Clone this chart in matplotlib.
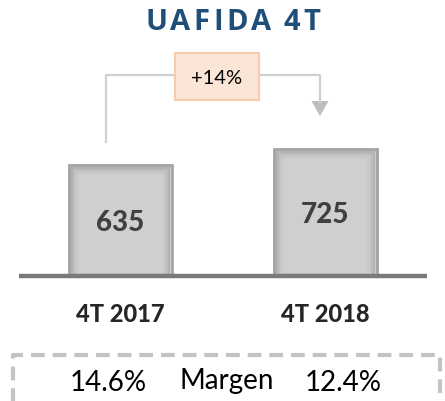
import matplotlib
matplotlib.use('Agg')
import matplotlib.pyplot as plt
from matplotlib.patches import Rectangle, Polygon
from matplotlib.lines import Line2D

# --- DATA ---
categories = ['4T 2017', '4T 2018']
values = [635, 725]
margins = ['14.6%', '12.4%']
growth_label = '+14%'
title = 'UAFIDA 4T'

W, H = 445, 402


def P(x, y):
    # pixel (from top-left) -> figure fraction
    return x / W, 1 - y / H


def main():
    fig = plt.figure(figsize=(W / 100, H / 100), dpi=100)
    fig.patch.set_facecolor('white')
    ax = fig.add_axes([0, 0, 1, 1])
    ax.set_facecolor('white')
    ax.axis('off')

    # axis scale: 204.5 px per category step, 0.1735 px per unit
    px_x = 204.5
    px_y = 0.1735
    ax.set_xlim(-120.5 / px_x, (W - 120.5) / px_x)
    ax.set_ylim(-(H - 276) / px_y, 276 / px_y)

    xs = list(range(len(values)))
    width = 103 / px_x

    # bars with a soft inner shading
    ax.bar(xs, values, width=width, color='#d0cecf', edgecolor='#a5a3a3',
           linewidth=2, zorder=2)
    shades = ['#b3b1b1', '#bebcbc', '#c7c5c6', '#cccacb']
    for k, col in enumerate(shades, start=1):
        inset = (k * 2.0 + 1)
        ax.bar(xs, [v - inset / px_y for v in values], width=width - 2 * inset / px_x,
               color='none', edgecolor=col, linewidth=1.5, zorder=3)

    # baseline
    ax.plot([(19 - 120.5) / px_x, (427 - 120.5) / px_x], [-8, -8],
            color='#7b7979', linewidth=3.2, solid_capstyle='butt', zorder=4)

    # value labels
    for x, v in zip(xs, values):
        ax.text(x, v / 2 - 12, f'{v}', ha='center', va='center', fontsize=20,
                fontweight='black', color='#404040', family='Lato', zorder=5)

    # category labels
    for x, c in zip(xs, categories):
        ax.text(x, -(315 - 276) / px_y, c, ha='center', va='center', fontsize=17,
                fontweight='black', color='#262626', family='Lato')

    # title with letter spacing
    renderer = fig.canvas.get_renderer()
    objs = []
    for ch in title:
        t = fig.text(0, P(0, 23)[1], ch, ha='left', va='center', fontsize=21,
                     fontweight='bold', color='#1f4e79', family='Open Sans')
        objs.append(t)
    widths = [t.get_window_extent(renderer).width if ch != ' ' else 5
              for t, ch in zip(objs, title)]
    target = 175
    gap = (target - sum(widths)) / (len(title) - 1)
    xpos = 232.5 - target / 2
    for t, w in zip(objs, widths):
        t.set_x(xpos / W)
        xpos += w + gap

    # connector with arrow
    line_col = '#d0d0d0'
    pts = [P(106, 143), P(106, 76), P(320, 76), P(320, 103)]
    fig.add_artist(Line2D([p[0] for p in pts], [p[1] for p in pts],
                          color=line_col, linewidth=1.6, transform=fig.transFigure))
    fig.add_artist(Polygon([P(311.5, 102), P(328.5, 102), P(320, 117)], closed=True,
                           facecolor='#bfbfbf', edgecolor='none',
                           transform=fig.transFigure))
    bx0, by0 = P(175, 101)
    bx1, by1 = P(259, 54)
    fig.add_artist(Rectangle((bx0, by0), bx1 - bx0, by1 - by0, facecolor='#fbe5d6',
                             edgecolor='#f8cbad', linewidth=1.5,
                             transform=fig.transFigure, zorder=5))
    fig.text(*P(217, 78), growth_label, ha='center', va='center', fontsize=14.5,
             color='black', family='Lato', zorder=6)

    # dashed margin box
    dpts = [P(12.5, 410), P(12.5, 356), P(439.5, 356), P(439.5, 410)]
    fig.add_artist(Line2D([p[0] for p in dpts], [p[1] for p in dpts],
                          color='#c3c3c3', linewidth=3, linestyle=(0, (3.3, 1.9)),
                          transform=fig.transFigure))
    fig.text(*P(108, 383), margins[0], ha='center', va='center', fontsize=20,
             color='black', family='Lato')
    fig.text(*P(227, 381), 'Margen', ha='center', va='center', fontsize=20,
             color='black', family='Lato')
    fig.text(*P(343, 383), margins[1], ha='center', va='center', fontsize=20,
             color='black', family='Lato')

    fig.savefig('out.png', dpi=100, facecolor='white')


if __name__ == '__main__':
    main()
